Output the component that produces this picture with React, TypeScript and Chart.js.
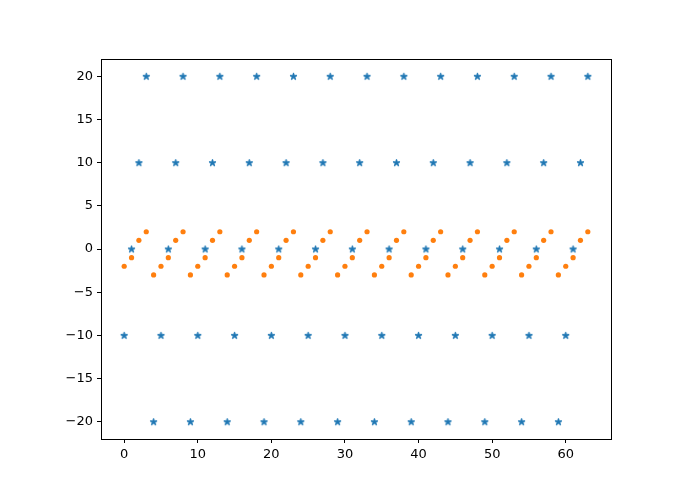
import React, { useEffect, useRef } from "react";
import { Chart, registerables } from "chart.js";

Chart.register(...registerables);

const xValues = [
  0, 1, 2, 3, 4, 5, 6, 7, 8, 9, 10, 11, 12, 13, 14, 15,
  16, 17, 18, 19, 20, 21, 22, 23, 24, 25, 26, 27, 28, 29, 30, 31,
  32, 33, 34, 35, 36, 37, 38, 39, 40, 41, 42, 43, 44, 45, 46, 47,
  48, 49, 50, 51, 52, 53, 54, 55, 56, 57, 58, 59, 60, 61, 62, 63,
];

const starValues = [
  -10, 0, 10, 20, -20, -10, 0, 10, 20, -20, -10, 0, 10, 20, -20, -10,
  0, 10, 20, -20, -10, 0, 10, 20, -20, -10, 0, 10, 20, -20, -10, 0,
  10, 20, -20, -10, 0, 10, 20, -20, -10, 0, 10, 20, -20, -10, 0, 10,
  20, -20, -10, 0, 10, 20, -20, -10, 0, 10, 20, -20, -10, 0, 10, 20,
];

const dotValues = [
  -2, -1, 1, 2, -3, -2, -1, 1, 2, -3, -2, -1, 1, 2, -3, -2,
  -1, 1, 2, -3, -2, -1, 1, 2, -3, -2, -1, 1, 2, -3, -2, -1,
  1, 2, -3, -2, -1, 1, 2, -3, -2, -1, 1, 2, -3, -2, -1, 1,
  2, -3, -2, -1, 1, 2, -3, -2, -1, 1, 2, -3, -2, -1, 1, 2,
];

const xTicks = [0, 10, 20, 30, 40, 50, 60];
const yTicks = [-20, -15, -10, -5, 0, 5, 10, 15, 20];

const BLUE = "#1f77b4";
const ORANGE = "#ff7f0e";

function makeStar(): HTMLCanvasElement {
  const size = 11;
  const c = document.createElement("canvas");
  c.width = size;
  c.height = size;
  const ctx = c.getContext("2d")!;
  const cx = size / 2;
  const cy = size / 2 + 0.3;
  const outer = 3.7;
  const inner = outer * 0.381966;
  ctx.beginPath();
  for (let i = 0; i < 10; i++) {
    const r = i % 2 === 0 ? outer : inner;
    const a = -Math.PI / 2 + (i * Math.PI) / 5;
    const px = cx + r * Math.cos(a);
    const py = cy + r * Math.sin(a);
    if (i === 0) ctx.moveTo(px, py);
    else ctx.lineTo(px, py);
  }
  ctx.closePath();
  ctx.fillStyle = BLUE;
  ctx.fill();
  ctx.strokeStyle = BLUE;
  ctx.lineWidth = 1;
  ctx.lineJoin = "miter";
  ctx.stroke();
  return c;
}

const fmt = (v: number) => (v < 0 ? "\u2212" + Math.abs(v) : String(v));

const framePlugin = {
  id: "frame",
  afterDraw(chart: any) {
    const { ctx, chartArea } = chart;
    const { left, top, right, bottom } = chartArea;
    ctx.save();
    ctx.strokeStyle = "#000";
    ctx.lineWidth = 1;
    ctx.strokeRect(Math.round(left) + 0.5, Math.round(top) + 0.5, Math.round(right - left), Math.round(bottom - top));
    ctx.restore();
  },
};

export default function App() {
  const ref = useRef<HTMLCanvasElement>(null);

  useEffect(() => {
    if (!ref.current) return;
    const star = makeStar();
    const font = { family: "DejaVu Sans", size: 13 };
    const chart = new Chart(ref.current, {
      type: "scatter",
      data: {
        datasets: [
          {
            label: "stars",
            data: xValues.map((x, i) => ({ x, y: starValues[i] })),
            pointStyle: star as any,
            backgroundColor: BLUE,
            borderColor: BLUE,
            order: 1,
          },
          {
            label: "dots",
            data: xValues.map((x, i) => ({ x, y: dotValues[i] })),
            pointStyle: "circle",
            pointRadius: 2.6,
            pointBorderWidth: 0,
            backgroundColor: ORANGE,
            borderColor: ORANGE,
            order: 0,
          },
        ],
      },
      options: {
        animation: false,
        responsive: false,
        events: [],
        layout: { padding: { left: 0, top: 59, right: 84, bottom: 0 } },
        plugins: {
          legend: { display: false },
          tooltip: { enabled: false },
        },
        scales: {
          x: {
            type: "linear",
            min: -3.15,
            max: 66.15,
            afterBuildTicks: (scale: any) => {
              scale.ticks = xTicks.map((v) => ({ value: v }));
            },
            afterFit: (scale: any) => {
              scale.height = 55;
            },
            border: { display: false },
            grid: {
              display: true,
              drawOnChartArea: false,
              drawTicks: true,
              tickLength: 4,
              tickColor: "#000",
              color: "#000",
            },
            ticks: {
              color: "#000",
              font,
              padding: 4,
              maxRotation: 0,
              callback: (v: any) => fmt(Number(v)),
            },
          },
          y: {
            type: "linear",
            min: -22,
            max: 22,
            afterBuildTicks: (scale: any) => {
              scale.ticks = yTicks.map((v) => ({ value: v }));
            },
            afterFit: (scale: any) => {
              scale.width = 101;
            },
            border: { display: false },
            grid: {
              display: true,
              drawOnChartArea: false,
              drawTicks: true,
              tickLength: 4,
              tickColor: "#000",
              color: "#000",
            },
            ticks: {
              color: "#000",
              font,
              padding: 4,
              callback: (v: any) => fmt(Number(v)),
            },
          },
        },
      },
      plugins: [framePlugin],
    } as any);
    return () => chart.destroy();
  }, []);

  return (
    <div style={{ position: "fixed", left: 0, top: 0, width: 695, height: 494, background: "#fff" }}>
      <canvas ref={ref} width={695} height={494} style={{ display: "block" }} />
    </div>
  );
}
